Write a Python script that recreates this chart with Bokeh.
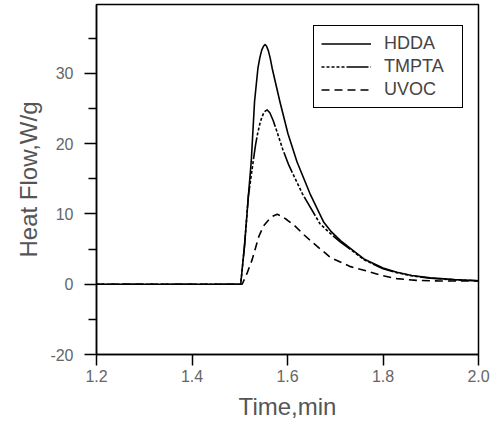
from bokeh.plotting import figure
from bokeh.models import FixedTicker, Range1d, Legend, LegendItem
from bokeh.embed import file_html
from bokeh.resources import INLINE

# ---- data ----
hdda_t = [1.200, 1.502, 1.510, 1.518, 1.524, 1.531, 1.538, 1.542, 1.546, 1.550, 1.553,
          1.556, 1.560, 1.564, 1.568, 1.584, 1.601, 1.620, 1.647, 1.676, 1.690, 1.711,
          1.739, 1.760, 1.800, 1.829, 1.860, 1.899, 1.950, 2.000]
hdda_v = [0.0, 0.0, 5.5, 12.5, 17.4, 26.0, 30.7, 32.2, 33.3, 33.9, 34.1,
          33.9, 33.2, 32.1, 30.7, 26.0, 21.4, 17.4, 12.9, 8.8, 7.6, 6.2,
          4.7, 3.6, 2.3, 1.7, 1.25, 0.9, 0.65, 0.5]

tmpta_t = [1.200, 1.502, 1.510, 1.518, 1.528, 1.533, 1.537, 1.542, 1.546, 1.551, 1.5575,
           1.563, 1.570, 1.578, 1.590, 1.603, 1.631, 1.668, 1.690, 1.711, 1.739, 1.760,
           1.800, 1.829, 1.860, 1.899, 1.950, 2.000]
tmpta_v = [0.0, 0.0, 5.5, 12.5, 17.4, 19.8, 21.3, 22.8, 23.7, 24.5, 24.8,
           24.4, 23.3, 21.7, 19.2, 16.9, 12.9, 8.6, 7.2, 6.0, 4.6, 3.5,
           2.2, 1.65, 1.2, 0.85, 0.62, 0.5]

uvoc_t = [1.200, 1.505, 1.515, 1.526, 1.540, 1.550, 1.561, 1.570, 1.5785, 1.590, 1.600,
          1.617, 1.635, 1.655, 1.690, 1.732, 1.760, 1.800, 1.829, 1.870, 1.920, 2.000]
uvoc_v = [0.0, 0.0, 1.5, 3.5, 6.8, 8.3, 9.2, 9.7, 9.95, 9.6, 9.1,
          8.2, 7.0, 5.8, 3.8, 2.5, 2.0, 1.2, 0.8, 0.55, 0.45, 0.45]

series_names = ["HDDA", "TMPTA", "UVOC"]

x_ticks = [1.2, 1.4, 1.6, 1.8, 2.0]
x_tick_labels = ["1.2", "1.4", "1.6", "1.8", "2.0"]
y_ticks = [-10, 0, 10, 20, 30]
y_tick_labels = ["-20", "0", "10", "20", "30"]
y_minor_ticks = [-5, 5, 15, 25, 35]

FONT = "Liberation Sans"

p = figure(width=493, height=430, output_backend="svg", toolbar_location=None, title=None,
           x_range=Range1d(1.2, 2.0), y_range=Range1d(-10, 39.8),
           min_border_left=96, min_border_right=15, min_border_top=4, min_border_bottom=76,
           x_axis_label="Time,min", y_axis_label="Heat Flow,W/g")

p.xgrid.visible = False
p.ygrid.visible = False
p.outline_line_color = "black"
p.outline_line_width = 1.5
p.outline_line_alpha = 1.0
p.background_fill_color = "white"
p.border_fill_color = "white"

# lines
r1 = p.line(hdda_t, hdda_v, line_color="black", line_width=1.6, line_join="round")
r2 = p.line(tmpta_t, tmpta_v, line_color="black", line_width=1.6, line_join="round",
            line_dash="3 2 3 2 3 2 3 2 3 2 22 2")
r3 = p.line(uvoc_t, uvoc_v, line_color="black", line_width=1.6, line_join="round",
            line_dash="8 5")

# axes
xa = p.xaxis[0]
xa.ticker = FixedTicker(ticks=x_ticks, minor_ticks=[])
xa.major_label_overrides = {t: l for t, l in zip(x_ticks, x_tick_labels)}
xa.major_tick_in = 0
xa.major_tick_out = 11
xa.minor_tick_line_color = None
xa.major_label_standoff = 4
xa.axis_label_standoff = 8

ya = p.yaxis[0]
ya.ticker = FixedTicker(ticks=y_ticks, minor_ticks=y_minor_ticks)
ya.major_label_overrides = {t: l for t, l in zip(y_ticks, y_tick_labels)}
ya.major_tick_in = 0
ya.major_tick_out = 12
ya.minor_tick_in = 0
ya.minor_tick_out = 8
ya.major_label_standoff = 11
ya.axis_label_standoff = 5

for ax in (xa, ya):
    ax.axis_line_color = "black"
    ax.axis_line_width = 1.5
    ax.major_tick_line_color = "black"
    ax.major_tick_line_width = 1.5
    ax.minor_tick_line_width = 1.5
    ax.major_label_text_font = FONT
    ax.major_label_text_font_size = "16px"
    ax.major_label_text_color = "#666666"
    ax.axis_label_text_font = FONT
    ax.axis_label_text_font_size = "24px"
    ax.axis_label_text_font_style = "normal"
    ax.axis_label_text_color = "#555555"
ya.minor_tick_line_color = "black"

legend = Legend(items=[LegendItem(label=n, renderers=[r]) for n, r in zip(series_names, [r1, r2, r3])],
                location=(217, 246), margin=0, padding=7, spacing=2,
                glyph_width=50, glyph_height=19, label_standoff=13, label_width=71,
                border_line_color="black", border_line_width=1.5, border_line_alpha=1.0,
                background_fill_color="white", background_fill_alpha=1.0,
                label_text_font=FONT, label_text_font_size="18px", label_text_color="#444444")
p.add_layout(legend)

open("out.html", "w").write(file_html(p, INLINE))
